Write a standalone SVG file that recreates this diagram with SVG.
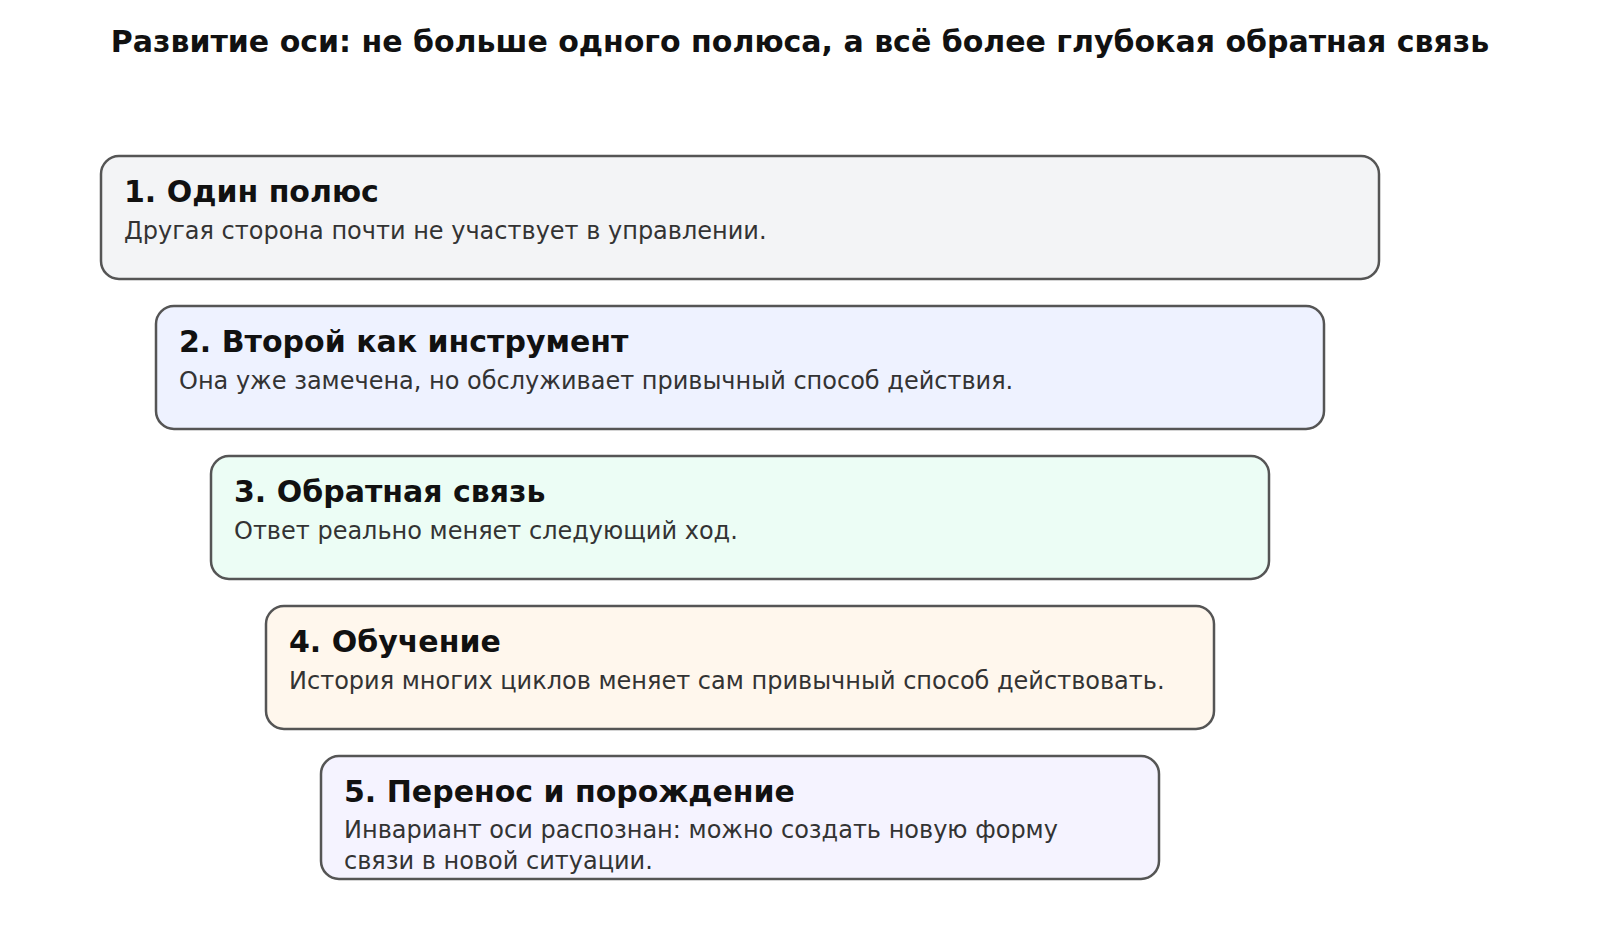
<svg xmlns="http://www.w3.org/2000/svg" width="1600" height="950" viewBox="0 0 1600 950">
<style>
.title{font-family:"DejaVu Sans",sans-serif;font-weight:bold;font-size:30px;fill:#111;}
.box{stroke:#555;stroke-width:2.5;}
.head{font-family:"DejaVu Sans",sans-serif;font-weight:bold;font-size:30px;fill:#111;}
.body{font-family:"DejaVu Sans",sans-serif;font-size:24px;fill:#333;}
</style>
<rect width="1600" height="950" fill="#ffffff"/>
<text class="title" x="800" y="52" text-anchor="middle">Развитие оси: не больше одного полюса, а всё более глубокая обратная связь</text>
<g id="connectors"></g>
<g id="n1">
<rect class="box" x="101" y="156" width="1278" height="123" rx="18" fill="#f3f4f6"/>
<text class="head" x="124" y="202">1. Один полюс</text>
<text class="body" x="124" y="239">Другая сторона почти не участвует в управлении.</text>
</g>
<g id="n2">
<rect class="box" x="156" y="306" width="1168" height="123" rx="18" fill="#eef2ff"/>
<text class="head" x="179" y="352">2. Второй как инструмент</text>
<text class="body" x="179" y="389">Она уже замечена, но обслуживает привычный способ действия.</text>
</g>
<g id="n3">
<rect class="box" x="211" y="456" width="1058" height="123" rx="18" fill="#ecfdf5"/>
<text class="head" x="234" y="502">3. Обратная связь</text>
<text class="body" x="234" y="539">Ответ реально меняет следующий ход.</text>
</g>
<g id="n4">
<rect class="box" x="266" y="606" width="948" height="123" rx="18" fill="#fff7ed"/>
<text class="head" x="289" y="652">4. Обучение</text>
<text class="body" x="289" y="689">История многих циклов меняет сам привычный способ действовать.</text>
</g>
<g id="n5">
<rect class="box" x="321" y="756" width="838" height="123" rx="18" fill="#f5f3ff"/>
<text class="head" x="344" y="802">5. Перенос и порождение</text>
<text class="body" x="344" y="838">Инвариант оси распознан: можно создать новую форму</text>
<text class="body" x="344" y="869">связи в новой ситуации.</text>
</g>
</svg>
